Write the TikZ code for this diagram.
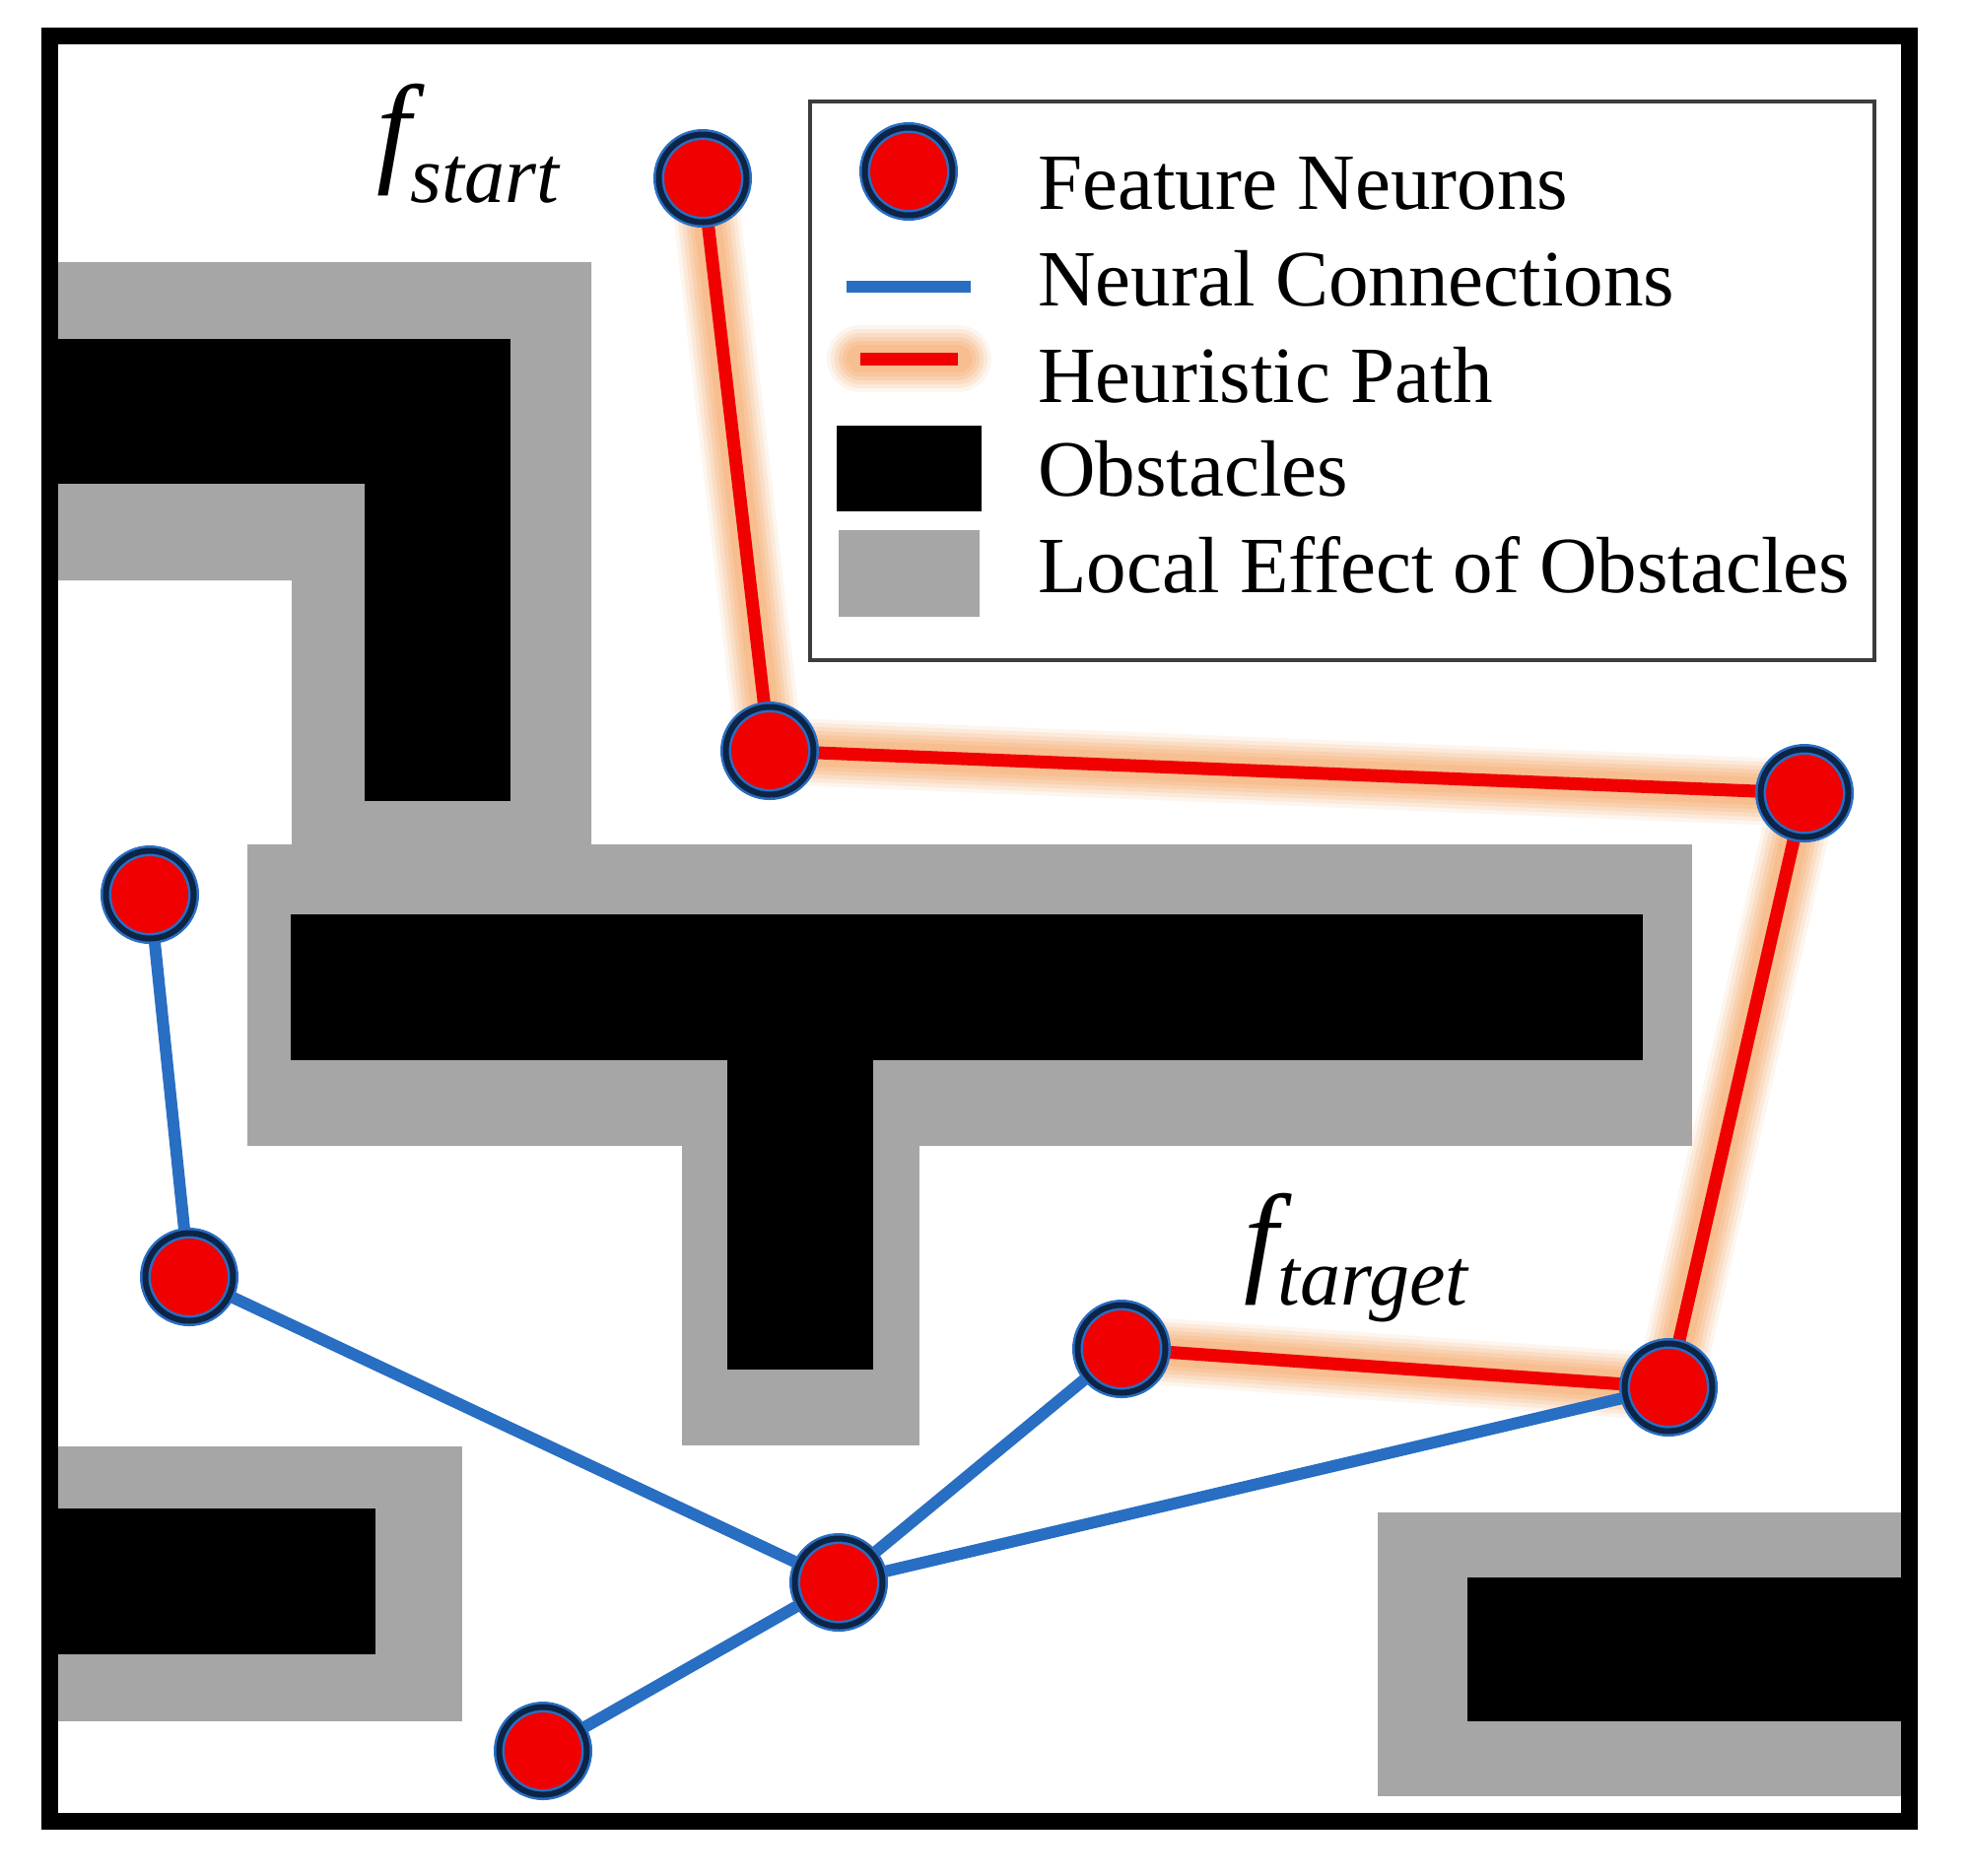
\documentclass[tikz,border=0pt]{standalone}
\usepackage{fontspec}
\setmainfont{Liberation Serif}
\pgfdeclarelayer{obst}
\pgfdeclarelayer{lines}
\pgfsetlayers{obst,lines,main}
\definecolor{obgray}{RGB}{166,166,166}
\definecolor{nred}{RGB}{240,0,0}
\definecolor{navyc}{RGB}{12,36,70}
\definecolor{nblue}{RGB}{40,110,195}
\definecolor{glowc}{RGB}{245,160,90}
\definecolor{legframe}{RGB}{60,60,60}
\begin{document}
\begin{tikzpicture}[x=0.5pt,y=-0.5pt,
  neuron/.style={circle, minimum size=44.5pt, inner sep=0pt, outer sep=0pt,
    fill=nred, draw=nblue, line width=1.25pt, double=navyc, double distance=3pt},
  conn/.style={draw=nblue, line width=6pt, line cap=round},
  glowpath/.style={
    preaction={draw=glowc, draw opacity=0.1, line width=34pt, line cap=round, line join=round},
    preaction={draw=glowc, draw opacity=0.14, line width=30pt, line cap=round, line join=round},
    preaction={draw=glowc, draw opacity=0.16, line width=26pt, line cap=round, line join=round},
    preaction={draw=glowc, draw opacity=0.18, line width=22pt, line cap=round, line join=round},
    preaction={draw=glowc, draw opacity=0.2, line width=18pt, line cap=round, line join=round},
    preaction={draw=glowc, draw opacity=0.22, line width=14pt, line cap=round, line join=round}},
  hpath/.style={glowpath, draw=nred, line width=6.5pt, line cap=round, line join=round},
  obstacle/.style={fill=black},
  effect/.style={fill=obgray},
  legtext/.style={anchor=base west, inner sep=0pt, font=\fontsize{40.5}{48}\selectfont},
  flabel/.style={anchor=base west, inner sep=0pt, font=\fontsize{62}{62}\selectfont\itshape}
]
\useasboundingbox (0,0) rectangle (2000,1903);

% obstacles and their local effect
\begin{pgfonlayer}{obst}
  \fill[white] (0,0) rectangle (2000,1903);
  % top-left L
  \fill[effect] (50,266) -- (600,266) -- (600,857) -- (296,857) -- (296,589) -- (50,589) -- cycle;
  % T shape
  \fill[effect] (251,857) rectangle (1717,1163);
  \fill[effect] (692,1163) rectangle (933,1467);
  % bottom-left
  \fill[effect] (50,1468) rectangle (469,1747);
  % bottom-right
  \fill[effect] (1398,1535) rectangle (1936,1823);

  \fill[obstacle] (50,344) rectangle (518,491);
  \fill[obstacle] (370,344) rectangle (518,813);
  \fill[obstacle] (295,928) rectangle (1667,1076);
  \fill[obstacle] (738,1076) rectangle (886,1390);
  \fill[obstacle] (50,1531) rectangle (381,1679);
  \fill[obstacle] (1489,1601) rectangle (1936,1747);
\end{pgfonlayer}

% neurons
\node[neuron] (n1) at (713,181) {};
\node[neuron] (n2) at (781,762) {};
\node[neuron] (n3) at (1831,805) {};
\node[neuron] (n4) at (1693,1408) {};
\node[neuron] (n5) at (1138,1369) {};
\node[neuron] (n6) at (851,1606) {};
\node[neuron] (n7) at (551,1777) {};
\node[neuron] (n8) at (192,1296) {};
\node[neuron] (n9) at (152,908) {};

\begin{pgfonlayer}{lines}
  \draw[hpath] (n1.center) -- (n2.center) -- (n3.center) -- (n4.center) -- (n5.center);
  \draw[conn] (n9.center) -- (n8.center) -- (n6.center);
  \draw[conn] (n6.center) -- (n5.center);
  \draw[conn] (n6.center) -- (n4.center);
  \draw[conn] (n6.center) -- (n7.center);
\end{pgfonlayer}

% labels
\node[flabel] (fstart) at (382,172) {f\raisebox{-16.5pt}{\fontsize{41}{41}\selectfont start}};
\node[flabel] (ftarget) at (1262,1298) {f\raisebox{-13pt}{\fontsize{41}{41}\selectfont target}};

% legend
\node[draw=legframe, line width=2pt, minimum width=540pt, minimum height=283.5pt, inner sep=0pt] (legend) at (1362,386.5) {};
\node[neuron] (ln) at (922,174) {};
\coordinate (lb1) at (859,291);
\coordinate (lb2) at (985,291);
\draw[conn, line cap=butt] (lb1) -- (lb2);
\coordinate (lr1) at (873,364);
\coordinate (lr2) at (972,364);
\draw[hpath, line cap=butt] (lr1) -- (lr2);
\node[obstacle, inner sep=0pt, minimum width=73.5pt, minimum height=43.5pt] (lobs) at (922.5,475.5) {};
\node[effect, inner sep=0pt, minimum width=71.5pt, minimum height=44pt] (leff) at (922.5,582) {};
\node[legtext] (t1) at (1053,212) {Feature Neurons};
\node[legtext] (t2) at (1053,310) {Neural Connections};
\node[legtext] (t3) at (1053,408) {Heuristic Path};
\node[legtext] (t4) at (1053,503) {Obstacles};
\node[legtext] (t5) at (1053,601) {Local Effect of Obstacles};

% frame
\draw[line width=8.5pt] (50,36) rectangle (1937,1848);
\end{tikzpicture}
\end{document}
